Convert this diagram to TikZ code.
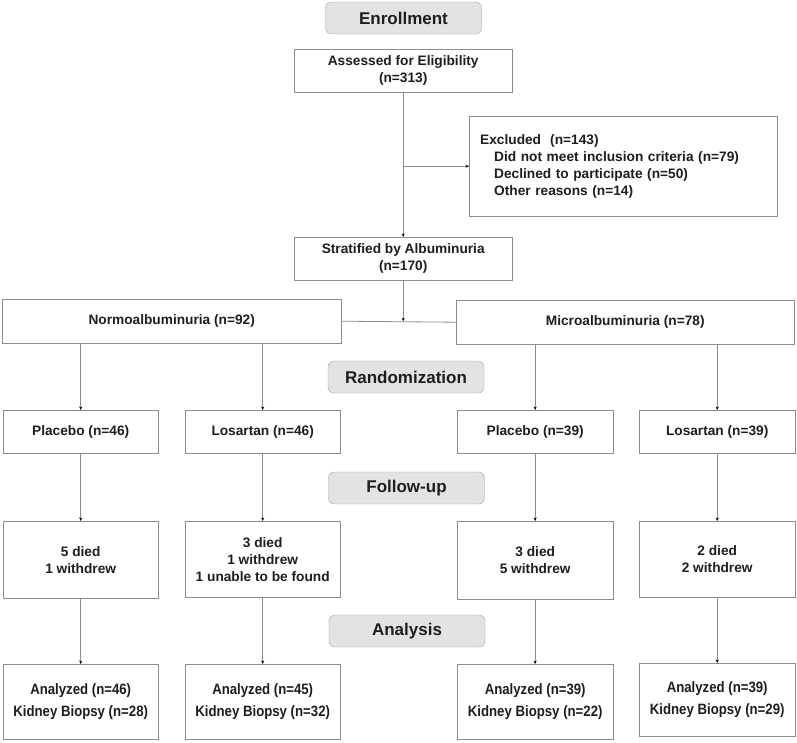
\documentclass[tikz,border=0pt]{standalone}
\usepackage{fontspec}
\setmainfont{Liberation Sans}
\newfontfamily\narrowsans{Liberation Sans}[FakeStretch=0.88]
\usetikzlibrary{arrows.meta}
\definecolor{stagegray}{HTML}{E3E3E3}
\definecolor{edgegray}{HTML}{8C8C8C}
\definecolor{inkgray}{HTML}{1E1E1E}

\begin{document}
\begin{tikzpicture}[x=1pt, y=-1pt,
    stagebox/.style={draw=edgegray!80, fill=stagegray, rounded corners=6pt, minimum width=156pt, minimum height=32pt, inner sep=0pt, text=inkgray, font=\fontsize{17}{20}\selectfont\bfseries},
    flowbox/.style={draw=edgegray, fill=white, anchor=north west, align=center, inner sep=0pt, text=inkgray, font=\fontsize{13.7}{17}\selectfont\bfseries},
    flowline/.style={draw=edgegray, line width=0.8pt},
    flowarrow/.style={flowline, -{Stealth[length=3.5pt, width=3pt, black]}}]
  \useasboundingbox (0,0) rectangle (797,742);

  % stage labels
  \node[stagebox] (enroll) at (403.5,18) {Enrollment};
  \node[stagebox] (random) at (406,377) {Randomization};
  \node[stagebox] (follow) at (406.5,488) {Follow-up};
  \node[stagebox] (analysis) at (407,631) {Analysis};

  % screening
  \node[flowbox, minimum width=218pt, minimum height=43pt] (assessed) at (294,49) {Assessed for Eligibility\\(n=313)};
  \node[flowbox, minimum width=308pt, minimum height=100pt, align=left, text width=286pt] (excluded) at (469,116)
    {Excluded\ \ (n=143)\\\hspace*{14pt}Did not meet inclusion criteria (n=79)\\\hspace*{14pt}Declined to participate (n=50)\\\hspace*{14pt}Other reasons (n=14)};
  \node[flowbox, minimum width=218pt, minimum height=43pt] (strat) at (294,237) {Stratified by Albuminuria\\(n=170)};

  % strata
  \node[flowbox, minimum width=339pt, minimum height=44pt] (normo) at (2,299) {Normoalbuminuria (n=92)};
  \node[flowbox, minimum width=338pt, minimum height=44pt] (micro) at (456,300) {Microalbuminuria (n=78)};

  % arms
  \node[flowbox, minimum width=155pt, minimum height=43pt] (plaN) at (3,410) {Placebo (n=46)};
  \node[flowbox, minimum width=155pt, minimum height=43pt] (losN) at (185,410) {Losartan (n=46)};
  \node[flowbox, minimum width=156pt, minimum height=43pt] (plaM) at (457,410) {Placebo (n=39)};
  \node[flowbox, minimum width=156pt, minimum height=43pt] (losM) at (639,410) {Losartan (n=39)};

  % follow-up
  \node[flowbox, minimum width=155pt, minimum height=77pt] (fup-plaN) at (3,521) {5 died\\1 withdrew};
  \node[flowbox, minimum width=155pt, minimum height=76pt] (fup-losN) at (185,521) {3 died\\1 withdrew\\1 unable to be found};
  \node[flowbox, minimum width=156pt, minimum height=78pt] (fup-plaM) at (457,521) {3 died\\5 withdrew};
  \node[flowbox, minimum width=156pt, minimum height=76pt] (fup-losM) at (639,521) {2 died\\2 withdrew};

  % analysis
  \tikzset{anabox/.style={flowbox, minimum height=75pt, font=\narrowsans\fontsize{15}{22}\selectfont\bfseries}}
  \node[anabox, minimum width=155pt] (ana-plaN) at (3,664) {Analyzed (n=46)\\Kidney Biopsy (n=28)};
  \node[anabox, minimum width=155pt] (ana-losN) at (185,664) {Analyzed (n=45)\\Kidney Biopsy (n=32)};
  \node[anabox, minimum width=156pt] (ana-plaM) at (457,664) {Analyzed (n=39)\\Kidney Biopsy (n=22)};
  \node[anabox, minimum width=156pt, minimum height=73pt] (ana-losM) at (639,663) {Analyzed (n=39)\\Kidney Biopsy (n=29)};

  % connectors
  \coordinate (exbranch) at (assessed.south |- excluded.west);
  \draw[flowarrow] (assessed.south) -- (strat.north);
  \draw[flowarrow] (exbranch) -- (excluded.west);
  \draw[flowline] (normo.east) -- (micro.west);
  \draw[flowarrow] (strat.south) -- (strat.south |- normo.east);
  \draw[flowarrow] (normo.south -| plaN.north) -- (plaN.north);
  \draw[flowarrow] (normo.south -| losN.north) -- (losN.north);
  \draw[flowarrow] (micro.south -| plaM.north) -- (plaM.north);
  \draw[flowarrow] (micro.south -| losM.north) -- (losM.north);
  \foreach \arm in {plaN, losN, plaM, losM} {
    \draw[flowarrow] (\arm.south) -- (fup-\arm.north);
    \draw[flowarrow] (fup-\arm.south) -- (ana-\arm.north);
  }
\end{tikzpicture}
\end{document}
